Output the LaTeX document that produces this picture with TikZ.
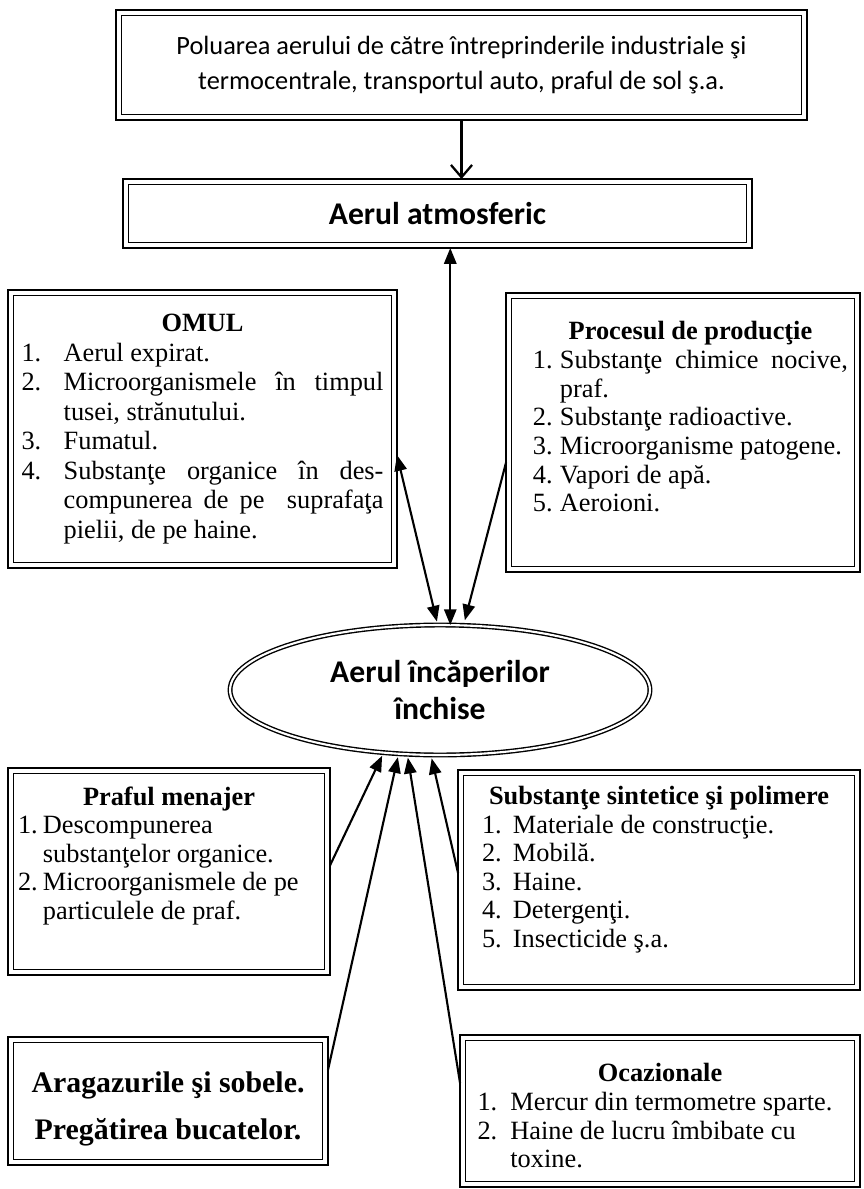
\documentclass[tikz,border=0pt]{standalone}
\usepackage{fontspec}
\setmainfont{Liberation Serif}
\setsansfont{Carlito}
\usetikzlibrary{arrows.meta,shapes,calc,positioning}

% list items with hanging number
\newlength{\itmw}
\newcommand{\itm}[2]{\par\noindent\hangindent=\itmw\hangafter=1\hbox to\itmw{#1\hfil}#2\par}
\newcommand{\ttl}[1]{\noindent\hfill\textbf{#1}\hfill\null\par}
\newcommand{\serifbody}{\fontsize{15}{16.3}\selectfont\tolerance=10000\hbadness=10000\hyphenpenalty=10000}

\begin{document}
\begin{tikzpicture}[x=0.02cm,y=-0.02cm,
	dbox/.style={draw, rectangle, line width=1.5pt, inner sep=2pt, outer sep=0pt,
		path picture={\draw[line width=0.6pt] ([shift={(3.2pt,3.2pt)}]path picture bounding box.south west) rectangle ([shift={(-3.2pt,-3.2pt)}]path picture bounding box.north east);}},
	listbox/.style={dbox, align=justify, font=\serifbody},
	con/.style={line width=1.2pt, -{Triangle[length=9pt,width=7pt]}},
	con2/.style={line width=1.2pt, {Triangle[length=9pt,width=7pt]}-{Triangle[length=9pt,width=7pt]}}]
	\useasboundingbox (0,0) rectangle (864,1189);

	\node [dbox, minimum width=13.82cm, minimum height=2.2cm, align=center, font=\sffamily\fontsize{15}{20}\selectfont] (src) at (461.5,65)
		{Poluarea aerului de către întreprinderile industriale şi\\termocentrale, transportul auto, praful de sol ş.a.};
	\node [dbox, minimum width=12.58cm, minimum height=1.38cm, font=\sffamily\bfseries\fontsize{18}{21}\selectfont] (atm) at (437.5,213.5) {Aerul atmosferic};

	\node [listbox, minimum width=7.78cm, minimum height=5.56cm, text width=7.24cm] (omul) at (202.5,429)
		{\setlength{\itmw}{24pt}\fontsize{15}{16.8}\selectfont\ttl{OMUL}
		\itm{1.}{Aerul expirat.}
		\itm{2.}{Microorganismele în timpul\linebreak tusei, strănutului.}
		\itm{3.}{Fumatul.}
		\itm{4.}{Substanţe organice în des-\linebreak compunerea de pe\ \ suprafaţa\linebreak pielii, de pe haine.}};
	\node [listbox, minimum width=7.08cm, minimum height=5.58cm, text width=6.6cm] (proc) at (683,432.5)
		{\setlength{\itmw}{15.3pt}\leftskip=8.5pt\ttl{Procesul de producţie}
		\itm{1.}{Substanţe chimice nocive,\linebreak praf.}
		\itm{2.}{Substanţe radioactive.}
		\itm{3.}{Microorganisme patogene.}
		\itm{4.}{Vapori de apă.}
		\itm{5.}{Aeroioni.\rule[-18pt]{0pt}{1pt}}};

	\node [ellipse, draw, line width=0.8pt, double, double distance=1.2pt, outer sep=0pt, minimum width=8.4cm, minimum height=2.6cm, align=center,
		font=\sffamily\bfseries\fontsize{18}{21}\selectfont] (air) at (440,690) {Aerul încăperilor\\închise};

	\node [listbox, minimum width=6.44cm, minimum height=4.14cm, text width=6.04cm] (praf) at (169,871.5)
		{\setlength{\itmw}{14.2pt}\ttl{Praful menajer}
		\itm{1.}{Descompunerea\newline substanţelor organice.}
		\itm{2.}{Microorganismele de pe\newline particulele de praf.\rule[-21pt]{0pt}{1pt}}};
	\node [listbox, minimum width=8.04cm, minimum height=4.4cm, text width=7.08cm] (subst) at (659,880)
		{\setlength{\itmw}{17.6pt}\ttl{Substanţe sintetice şi polimere}
		\itm{1.}{Materiale de construcţie.}
		\itm{2.}{Mobilă.}
		\itm{3.}{Haine.}
		\itm{4.}{Detergenţi.}
		\itm{5.}{Insecticide ş.a.\rule[-15pt]{0pt}{1pt}}};

	\node [dbox, minimum width=6.4cm, minimum height=2.56cm, align=center, font=\bfseries\fontsize{17}{26.6}\selectfont] (arag) at (168,1101)
		{\rule{0pt}{21pt}Aragazurile şi sobele.\\Pregătirea bucatelor.};
	\node [listbox, minimum width=8cm, minimum height=3.04cm, text width=7.3cm] (ocaz) at (660,1111)
		{\setlength{\itmw}{18.7pt}\ttl{\rule{0pt}{16pt}Ocazionale}
		\itm{1.}{Mercur din termometre sparte.}
		\itm{2.}{Haine de lucru îmbibate cu\newline toxine.}};

	% connectors
	\draw [line width=1.3pt, -{Straight Barb[length=7pt,width=12pt]}] (src.south) -- (src.south |- atm.north);
	\draw [con2] (air.81) -- (air.81 |- atm.south);
	\draw [con2, shorten >=2pt] ([yshift=-0.52cm]omul.east) -- (air.92);
	\draw [con, shorten >=3pt] ([yshift=-0.6cm]proc.west) -- (air.70);
	\draw [con, shorten >=2pt] ([yshift=0.12cm]praf.east) -- (air.228);
	\draw [con, shorten >=2pt] ([yshift=0.62cm]arag.east) -- (air.237);
	\draw [con, shorten >=2pt] ([yshift=0.56cm]ocaz.west) -- (air.243);
	\draw [con, shorten >=2pt] ([yshift=0.14cm]subst.west) -- (air.262);
\end{tikzpicture}
\end{document}
